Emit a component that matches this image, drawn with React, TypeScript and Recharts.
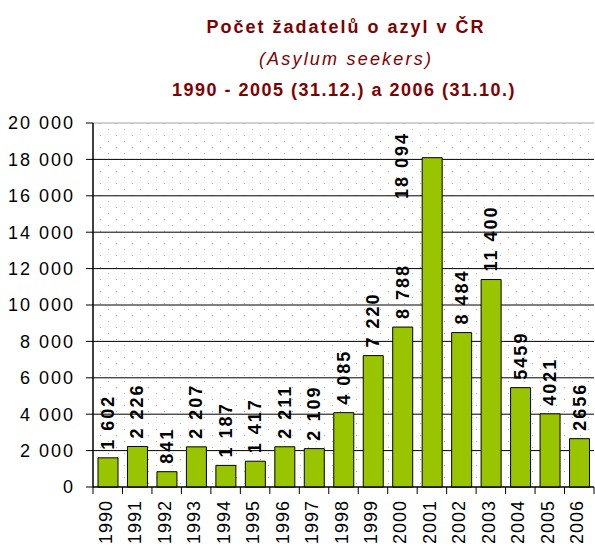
import React from 'react';
import { BarChart, Bar, XAxis, YAxis, CartesianGrid, LabelList, ReferenceLine } from 'recharts';

const years = ['1990', '1991', '1992', '1993', '1994', '1995', '1996', '1997', '1998', '1999', '2000', '2001', '2002', '2003', '2004', '2005', '2006'];
const seekers = [1602, 2226, 841, 2207, 1187, 1417, 2211, 2109, 4085, 7220, 8788, 18094, 8484, 11400, 5459, 4021, 2656];
const valueLabels = ['1 602', '2 226', '841', '2 207', '1 187', '1 417', '2 211', '2 109', '4 085', '7 220', '8 788', '18 094', '8 484', '11 400', '5459', '4021', '2656'];
const yTicks = [0, 2000, 4000, 6000, 8000, 10000, 12000, 14000, 16000, 18000, 20000];

const titleLines = ['Počet žadatelů o azyl v ČR', '(Asylum seekers)', '1990 - 2005 (31.12.) a 2006 (31.10.)'];

const W = 595;
const H = 548;
const PLOT_LEFT = 93;
const PLOT_RIGHT = 594;
const PLOT_TOP = 123;
const PLOT_BOTTOM = 487;
const BAND = (PLOT_RIGHT - PLOT_LEFT) / years.length;
const FONT = 'Arial, "Liberation Sans", sans-serif';

const data = years.map((y, i) => ({ year: y, value: seekers[i], label: valueLabels[i] }));

const fmt = (v: number) => String(v).replace(/\B(?=(\d{3})+(?!\d))/g, ' ');

const YearTick = (props: any) => {
  const { x, y, payload, index } = props;
  return (
    <g>
      <line x1={x - BAND / 2} x2={x - BAND / 2} y1={y} y2={y + 7} stroke="#000" />
      {index === years.length - 1 && (
        <line x1={x + BAND / 2} x2={x + BAND / 2} y1={y} y2={y + 7} stroke="#000" />
      )}
      <text
        x={x + 4}
        y={y + 13}
        transform={`rotate(-90 ${x + 4} ${y + 13})`}
        textAnchor="end"
        fontSize={18}
        fontFamily={FONT}
        style={{ letterSpacing: 1 }}
        fill="#000"
      >
        {payload.value}
      </text>
    </g>
  );
};

const ValueLabel = (props: any) => {
  const { x, y, width, index } = props;
  const text = valueLabels[index];
  const len = text.length * 11.5;
  let cx = x + width / 2 + 6;
  let bottom = y - 8;
  if (bottom - len < PLOT_TOP) {
    bottom = PLOT_TOP + 7 + len;
    cx = x + width / 2 - 24;
  }
  return (
    <text
      x={cx}
      y={bottom}
      transform={`rotate(-90 ${cx} ${bottom})`}
      textAnchor="start"
      fontSize={18}
      fontWeight="bold"
      fontFamily={FONT}
      style={{ letterSpacing: 2 }}
      fill="#000"
    >
      {text}
    </text>
  );
};

export default function App() {
  return (
    <div style={{ position: 'absolute', left: 0, top: 0, width: W, height: H, background: '#fff' }}>
      <BarChart
        width={W}
        height={H}
        data={data}
        margin={{ top: PLOT_TOP, right: W - PLOT_RIGHT, bottom: 0, left: 0 }}
        barCategoryGap={0}
      >
        <defs>
          <pattern id="dots" width={16} height={12} patternUnits="userSpaceOnUse">
            <rect x={4} y={3} width={1} height={1} fill="#b0b0b0" />
            <rect x={12} y={9} width={1} height={1} fill="#b0b0b0" />
          </pattern>
        </defs>
        <CartesianGrid
          vertical={false}
          stroke="#000"
          fill="url(#dots)"
          horizontalValues={yTicks.slice(0, -1)}
        />
        <ReferenceLine y={20000} stroke="#a0a0a0" />
        <XAxis
          dataKey="year"
          interval={0}
          tickLine={false}
          tickSize={0}
          tickMargin={0}
          height={H - PLOT_BOTTOM}
          axisLine={{ stroke: '#000' }}
          tick={<YearTick />}
        />
        <YAxis
          domain={[0, 20000]}
          ticks={yTicks}
          interval={0}
          width={PLOT_LEFT}
          tickSize={7}
          tickMargin={11}
          tickFormatter={fmt}
          axisLine={{ stroke: '#000', strokeWidth: 1.5 }}
          tickLine={{ stroke: '#000' }}
          tick={{ fontSize: 18, fontFamily: FONT, fill: '#000', style: { letterSpacing: 2 } }}
        />
        <Bar dataKey="value" fill="#99C400" stroke="#000" strokeWidth={1} barSize={20} isAnimationActive={false}>
          <LabelList dataKey="label" content={<ValueLabel />} />
        </Bar>
      </BarChart>
      <svg width={W} height={130} style={{ position: 'absolute', left: 0, top: 0, pointerEvents: 'none' }}>
        <text x={346} y={33} textAnchor="middle" fontSize={18} fontWeight="bold" fontFamily={FONT} fill="#800000" style={{ letterSpacing: 2 }}>
          {titleLines[0]}
        </text>
        <text x={346} y={65} textAnchor="middle" fontSize={18} fontStyle="italic" fontFamily={FONT} fill="#800000" style={{ letterSpacing: 2.2 }}>
          {titleLines[1]}
        </text>
        <text x={344} y={96} textAnchor="middle" fontSize={18} fontWeight="bold" fontFamily={FONT} fill="#800000" style={{ letterSpacing: 1.5 }}>
          {titleLines[2]}
        </text>
      </svg>
    </div>
  );
}
